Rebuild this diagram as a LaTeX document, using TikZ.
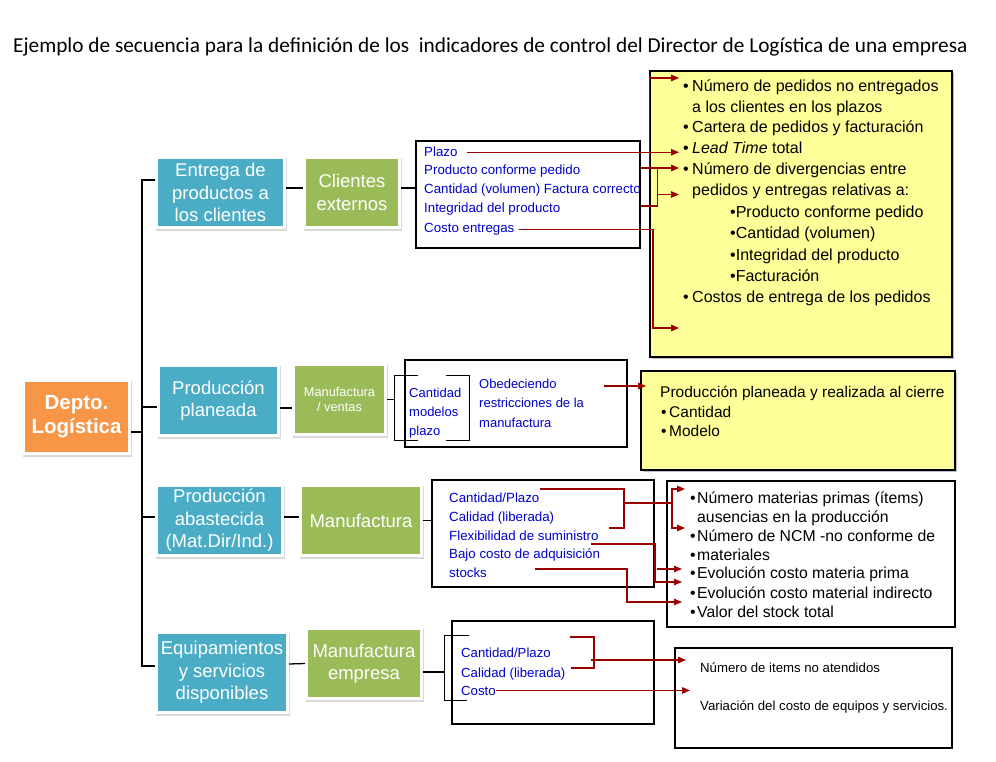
\documentclass[tikz,border=0pt]{standalone}
\usepackage{fontspec}
\setmainfont{Liberation Sans}
\newfontfamily\titlefont{Carlito}
\usetikzlibrary{arrows.meta,positioning}

\definecolor{tealbox}{RGB}{75,172,198}
\definecolor{olivebox}{RGB}{155,187,89}
\definecolor{orangebox}{RGB}{247,150,70}
\definecolor{notepad}{RGB}{255,255,153}
\definecolor{critblue}{RGB}{0,0,204}
\definecolor{arrowred}{RGB}{153,0,0}

\newcommand{\bul}[1]{\makebox[#1][l]{•}}

\begin{document}
\begin{tikzpicture}[x=1pt, y=-1pt,
    tile/.style={rectangle, fill=#1, draw=white, line width=3pt, text=white, align=center, inner sep=0pt,
      preaction={draw=black!15, fill=black!15, line width=3pt, transform canvas={xshift=1pt, yshift=-2pt}}},
    panel/.style={rectangle, draw=black, line width=1.1pt, fill=white, inner sep=0pt},
    note/.style={panel, fill=notepad, preaction={fill=black!25, transform canvas={xshift=2pt, yshift=-2pt}}},
    brk/.style={rectangle, inner sep=0pt, minimum width=23pt, minimum height=64pt},
    crit/.style={anchor=base west, inner sep=0pt, text=critblue, font=\fontsize{#1}{16}\selectfont},
    crit/.default=13.3,
    ind/.style={anchor=base west, inner sep=0pt, font=\fontsize{#1}{19}\selectfont},
    ind/.default=16,
    big/.style={font=\fontsize{18.5}{22.5}\selectfont},
    tree/.style={draw, line width=1.3pt},
    link/.style={draw=arrowred, line width=1.2pt},
    flow/.style={link, -{Triangle[length=8pt, width=6.5pt]}}]
  \useasboundingbox (0,0) rectangle (996,762);

  % title
  \node[anchor=base west, inner sep=0pt, font=\titlefont\fontsize{21.3}{25}\selectfont] (title) at (13,53)
    {Ejemplo de secuencia para la definición de los \ indicadores de control del Director de Logística de una empresa};

  % tree of areas
  \node[tile=orangebox, minimum width=106pt, minimum height=73pt, font=\bfseries\fontsize{20.5}{24}\selectfont] (depto) at (76.5,417) {Depto.\\Logística};

  \node[tile=tealbox, big, minimum width=128pt, minimum height=70pt] (entrega) at (220.5,192.5) {Entrega de\\productos a\\los clientes};
  \node[tile=tealbox, big, minimum width=120pt, minimum height=70pt] (planeada) at (218.5,400.5) {Producción\\planeada};
  \node[tile=tealbox, big, minimum width=126pt, minimum height=70pt] (abastecida) at (219.5,520.5) {Producción\\abastecida\\(Mat.Dir/Ind.)};
  \node[tile=tealbox, big, minimum width=131pt, minimum height=80pt] (equipos) at (222,672.5) {Equipamientos\\y servicios\\disponibles};

  \node[tile=olivebox, big, minimum width=95pt, minimum height=70pt] (clientes) at (352,192.5) {Clientes\\externos};
  \node[tile=olivebox, font=\fontsize{12.8}{15.3}\selectfont, minimum width=92pt, minimum height=70pt] (manuventas) at (339.5,399.5) {Manufactura\\/ ventas};
  \node[tile=olivebox, big, minimum width=121pt, minimum height=70pt] (manufactura) at (361,520.5) {Manufactura};
  \node[tile=olivebox, big, minimum width=115pt, minimum height=70pt] (manuempresa) at (364,663.5) {Manufactura\\empresa};

  % criteria panels
  \node[panel, minimum width=224pt, minimum height=107pt] (crit1) at (528,194.5) {};
  \node[panel, minimum width=222pt, minimum height=87pt] (crit2) at (516,403.5) {};
  \node[panel, minimum width=222pt, minimum height=107pt] (crit3) at (543,533.5) {};
  \node[panel, minimum width=202pt, minimum height=103pt] (crit4) at (553,672.5) {};

  % indicator panels
  \node[note, minimum width=302pt, minimum height=286pt] (ind1) at (801,214) {};
  \node[note, minimum width=314pt, minimum height=99pt] (ind2) at (798,420.5) {};
  \node[panel, minimum width=288pt, minimum height=146pt] (ind3) at (811,554) {};
  \node[panel, minimum width=277pt, minimum height=100pt] (ind4) at (813.5,698) {};

  % criteria texts
  \node[crit] (plazo) at (424,157) {Plazo};
  \node[crit] (conforme) at (424,175) {Producto conforme pedido};
  \node[crit] (volumen) at (424,194) {Cantidad (volumen) Factura correcto};
  \node[crit] (integridad) at (424,213) {Integridad del producto};
  \node[crit] (costo) at (424,233) {Costo entregas};

  \node[brk] (lb2) at (406.5,408) {};
  \node[brk] (rb2) at (457.5,408) {};
  \node[crit=13] (cant2) at (409,397) {Cantidad};
  \node[crit=13] (modelos) at (409,416) {modelos};
  \node[crit=13] (plazo2) at (409,435) {plazo};
  \node[crit=13] (obe1) at (479,388) {Obedeciendo};
  \node[crit=13] (obe2) at (479,407) {restricciones de la};
  \node[crit=13] (obe3) at (479,427) {manufactura};

  \node[crit] (cp3) at (449,502) {Cantidad/Plazo};
  \node[crit] (cal3) at (449,521) {Calidad (liberada)};
  \node[crit] (flex) at (449,540) {Flexibilidad de suministro};
  \node[crit] (bajo) at (449,558) {Bajo costo de adquisición};
  \node[crit] (stocks) at (449,577) {stocks};

  \node[brk, minimum width=24pt] (lb4) at (457,668) {};
  \node[crit=13.2] (cp4) at (461,657) {Cantidad/Plazo};
  \node[crit=13.2] (cal4) at (461,677) {Calidad (liberada)};
  \node[crit=13.2] (cst4) at (461,695) {Costo};

  % indicator texts
  \node[ind] (nped) at (683,92) {\bul{9pt}Número de pedidos no entregados};
  \node[ind] (ncli) at (692,112.5) {a los clientes en los plazos};
  \node[ind] (cartera) at (683,133) {\bul{9pt}Cartera de pedidos y facturación};
  \node[ind] (lead) at (683,154) {\bul{9pt}\textit{Lead Time} total};
  \node[ind] (ndiv) at (683,175) {\bul{9pt}Número de divergencias entre};
  \node[ind] (nrel) at (692,196) {pedidos y entregas relativas a:};
  \node[ind] (sprod) at (730,218) {•Producto conforme pedido};
  \node[ind] (scant) at (730,239) {•Cantidad (volumen)};
  \node[ind] (sinte) at (730,260) {•Integridad del producto};
  \node[ind] (sfact) at (730,281) {•Facturación};
  \node[ind] (ncost) at (683,302) {\bul{9pt}Costos de entrega de los pedidos};

  \node[ind=15.5] (preal) at (660,397) {Producción planeada y realizada al cierre};
  \node[ind=15.5] (pcant) at (661,417) {\bul{8pt}Cantidad};
  \node[ind=15.5] (pmod) at (661,436) {\bul{8pt}Modelo};

  \node[ind=15.8] (mprim) at (690,503) {\bul{7pt}Número materias primas (ítems)};
  \node[ind=15.8] (maus) at (697,522) {ausencias en la producción};
  \node[ind=15.8] (mncm) at (690,541) {\bul{7pt}Número de NCM -no conforme de};
  \node[ind=15.8] (mmat) at (690,560) {\bul{7pt}materiales};
  \node[ind=15.8] (mevp) at (690,578) {\bul{7pt}Evolución costo materia prima};
  \node[ind=15.8] (mevi) at (690,598) {\bul{7pt}Evolución costo material indirecto};
  \node[ind=15.8] (mstk) at (690,617) {\bul{7pt}Valor del stock total};

  \node[ind=13.2] (eitem) at (700,672) {Número de items no atendidos};
  \node[ind=13.2] (evar) at (700,710) {Variación del costo de equipos y servicios.};

  % tree connectors
  \draw[tree] ([yshift=12.5pt]entrega.west) -- ++(-13,0) coordinate (trunk) |- ([yshift=6.5pt]equipos.west);
  \coordinate (b2in) at ([yshift=-6.5pt]planeada.west);
  \coordinate (b3in) at ([yshift=3.5pt]abastecida.west);
  \coordinate (dout) at ([yshift=-15pt]depto.east);
  \draw[tree] (trunk |- b2in) -- (b2in);
  \draw[tree] (trunk |- b3in) -- (b3in);
  \draw[tree] (dout) -- (dout -| trunk);

  \draw[tree] ([yshift=4.5pt]entrega.east) -- ([yshift=4.5pt]clientes.west);
  \draw[tree] ([yshift=-7.5pt]planeada.east) -- ([yshift=-8.5pt]manuventas.west);
  \draw[tree] ([yshift=3.5pt]abastecida.east) -- ([yshift=3.5pt]manufactura.west);
  \draw[tree] ([yshift=8.5pt]equipos.east) -- (manuempresa.west);

  \draw[tree] ([yshift=4.5pt]clientes.east) -- ([yshift=6.5pt]crit1.west);
  \draw[tree] (manuventas.east) -- (manuventas.east -| lb2.west);
  \draw[tree] (manufactura.east) -- (manufactura.east -| crit3.west);
  \coordinate (c4out) at ([yshift=-8.5pt]manuempresa.east);
  \draw[tree] (c4out) -- (c4out -| lb4.west);

  % brackets
  \draw[tree] (lb2.north east) -- (lb2.north west) -- (lb2.south west) -- (lb2.south east);
  \draw[tree] (rb2.north west) -- (rb2.north east) -- (rb2.south east) -- (rb2.south west);
  \draw[tree] (lb4.north east) -- (lb4.north west) -- (lb4.south west) -- ([xshift=-2pt]lb4.south east);

  % row 1 arrows
  \coordinate (tipA) at (679,78);
  \coordinate (tipC) at (679,168);
  \coordinate (tipD) at (679,194.5);
  \coordinate (tipE) at (679,328);
  \coordinate (bendE) at (653,328);
  \draw[flow] ([xshift=9pt]plazo.east) -- (plazo.east -| tipA);
  \draw[link] (crit1.east |- tipC) -- ++(17,0) coordinate (brk1) |- ++(-17,38);
  \draw[flow] (brk1) -- (tipC);
  \draw[flow] (brk1 |- tipD) -- (tipD);
  \draw[flow] (ind1.west |- tipC) |- (tipA);
  \draw[flow] ([xshift=4pt]costo.east) -| (bendE) -- (tipE);

  % row 2 arrow
  \coordinate (from2) at (604,386);
  \coordinate (tip2) at (646,386);
  \draw[flow] (from2) -- (tip2);

  % row 3 arrows
  \coordinate (j3) at (624,503);
  \coordinate (v3) at (672,503);
  \coordinate (t3a) at (685,489);
  \coordinate (t3b) at (685,528);
  \coordinate (t3c) at (682,569);
  \coordinate (t3d) at (682,582);
  \coordinate (t3e) at (682,602);
  \coordinate (f3) at (591,544);
  \coordinate (s3) at (535,569);
  \draw[link] (cp3.east |- t3a) -| (j3 |- t3b) -- ++(-15,0);
  \draw[link] (j3) -- (v3);
  \draw[flow] (v3) |- (t3a);
  \draw[flow] (v3) |- (t3b);
  \draw[flow] (f3) -| ([xshift=-27pt]t3d) -- (t3d);
  \draw[flow] ([xshift=-25pt]t3c) -- (t3c);
  \draw[flow] (s3) -| ([xshift=-55pt]t3e) -- (t3e);

  % row 4 arrows
  \coordinate (b4t) at (570,637);
  \coordinate (b4m) at (594,660);
  \coordinate (b4b) at (571,668);
  \coordinate (t4a) at (686,660);
  \coordinate (t4b) at (690,692);
  \draw[link] (b4t) -| (b4m |- b4b) -- (b4b);
  \draw[flow] ([xshift=-3pt]b4m) -- (t4a);
  \draw[flow] (cst4.east) -- (cst4.east -| t4b);
\end{tikzpicture}
\end{document}
